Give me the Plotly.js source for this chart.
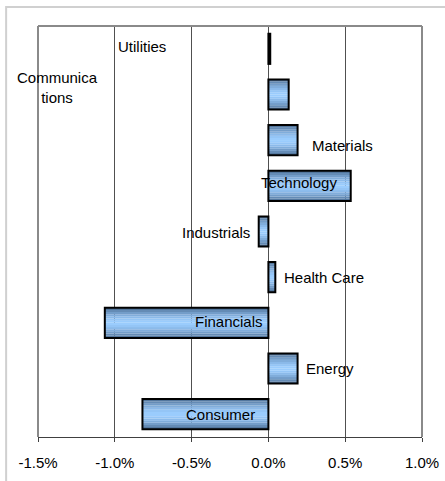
<!DOCTYPE html>
<html>
<head>
<meta charset="utf-8">
<script src="https://cdn.plot.ly/plotly-3.0.1.min.js"></script>
<style>html,body{margin:0;padding:0;background:#fff;}#chart{width:445px;height:481px;}</style>
</head>
<body>
<div id="chart"></div>
<script>
// Data (bottom to top)
const sectors = ["Consumer", "Energy", "Financials", "Health Care", "Industrials", "Technology", "Materials", "Communications", "Utilities"];
const sectorLabels = ["Consumer", "Energy", "Financials", "Health Care", "Industrials", "Technology", "Materials", "Communica<br>tions", "Utilities"];
const returnsPct = [-0.82, 0.19, -1.065, 0.045, -0.063, 0.536, 0.19, 0.132, 0.012];
const tickValues = [-1.5, -1.0, -0.5, 0.0, 0.5, 1.0];
const tickLabels = ["-1.5%", "-1.0%", "-0.5%", "0.0%", "0.5%", "1.0%"];

// Label placement (layout only)
const labelPlacement = [
  {x: -0.075, anchor: "right", ys: 0},
  {x: 0.23,   anchor: "left",  ys: 0},
  {x: -0.025, anchor: "right", ys: 1},
  {x: 0.088,  anchor: "left",  ys: 0},
  {x: -0.105, anchor: "right", ys: -1},
  {x: -0.058, anchor: "left",  ys: 3},
  {x: 0.271,  anchor: "left",  ys: -5},
  {x: -1.37,  anchor: "center", ys: 7},
  {x: -0.995, anchor: "left",  ys: 2}
];

const barW = 0.66;
const N = 14;
const edge = [74, 108, 146], center = [155, 205, 255];
function mix(t) {
  const c = edge.map((e, i) => Math.round(e + (center[i] - e) * t));
  return "rgb(" + c.join(",") + ")";
}
const traces = [];
for (let i = 0; i < N; i++) {
  const pos = (i + 0.5) / N;
  const d = Math.abs(pos - 0.5) * 2;
  const t = 1 - Math.pow(d, 1.6);
  traces.push({
    type: "bar", orientation: "h",
    y: sectors, x: returnsPct,
    width: barW / N + 0.002, offset: -barW / 2 + i * barW / N,
    marker: {color: mix(t), line: {width: 0}},
    hoverinfo: "skip", showlegend: false
  });
}
traces.push({
  type: "bar", orientation: "h",
  y: sectors, x: returnsPct,
  width: barW, offset: -barW / 2,
  marker: {color: "rgba(0,0,0,0)", line: {color: "#000", width: 2}},
  showlegend: false
});

const annotations = sectors.map((s, i) => ({
  x: labelPlacement[i].x, y: s, xref: "x", yref: "y",
  text: sectorLabels[i], showarrow: false,
  xanchor: labelPlacement[i].anchor, yanchor: "middle",
  yshift: labelPlacement[i].ys,
  font: {family: "Liberation Sans, Arial, sans-serif", size: 15, color: "#000"}
}));

const layout = {
  width: 445, height: 481,
  margin: {l: 38, r: 23, t: 26, b: 44},
  paper_bgcolor: "#fff", plot_bgcolor: "#fff",
  barmode: "overlay",
  font: {family: "Liberation Sans, Arial, sans-serif", size: 15, color: "#000"},
  xaxis: {
    range: [-1.5, 1.0], tickvals: tickValues, ticktext: tickLabels,
    showgrid: true, gridcolor: "#505050", gridwidth: 1,
    zeroline: false, showline: true, linecolor: "#404040", linewidth: 1,
    ticks: "outside", ticklen: 4, tickcolor: "#404040", tickwidth: 1,
    ticklabelstandoff: 8, fixedrange: true
  },
  yaxis: {
    showticklabels: false, showgrid: false, zeroline: false, showline: false,
    ticks: "", range: [-0.5, 8.5], fixedrange: true
  },
  annotations: annotations,
  shapes: [
    {type: "path", xref: "paper", yref: "paper", path: "M -0.083,-0.2 L -0.083,1.0462 L 1.2,1.0462",
     line: {color: "#d0d0d0", width: 2}, layer: "below"},
    {type: "line", xref: "paper", yref: "paper", x0: 0, x1: 0, y0: 0, y1: 1, line: {color: "#8a8a8a", width: 2}},
    {type: "line", xref: "paper", yref: "paper", x0: 1, x1: 1, y0: 0, y1: 1, line: {color: "#8a8a8a", width: 2}},
    {type: "line", xref: "paper", yref: "paper", x0: 0, x1: 1, y0: 1, y1: 1, line: {color: "#8a8a8a", width: 2}}
  ]
};

Plotly.newPlot("chart", traces, layout, {displayModeBar: false, staticPlot: true});
</script>
</body>
</html>
